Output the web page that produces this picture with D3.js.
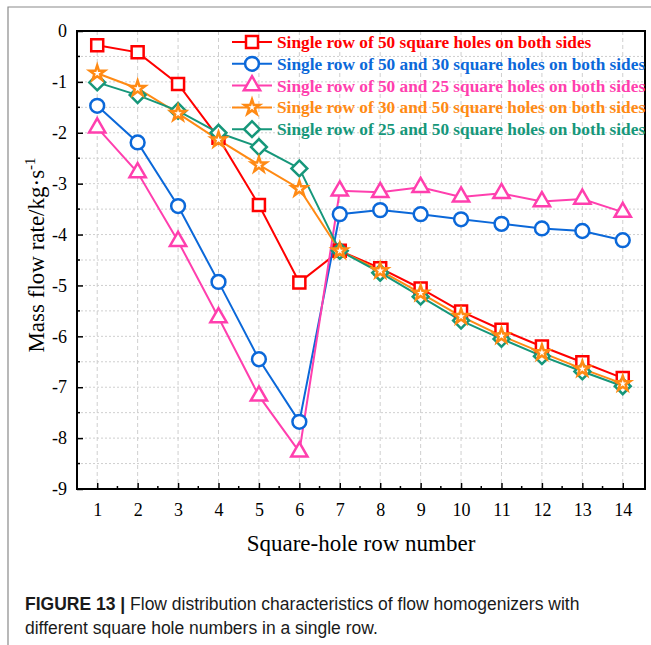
<!DOCTYPE html>
<html>
<head>
<meta charset="utf-8">
<script src="https://cdn.jsdelivr.net/npm/d3@7"></script>
<style>
  body { margin: 0; background: #fff; }
  svg { display: block; }
</style>
</head>
<body>
<div id="chart"></div>
<script>
const width = 651;
const height = 645;

// data
const rows = [1, 2, 3, 4, 5, 6, 7, 8, 9, 10, 11, 12, 13, 14];
const yTicks = [0, -1, -2, -3, -4, -5, -6, -7, -8, -9];
const single50 = [-0.28, -0.42, -1.04, -2.1, -3.42, -4.94, -4.32, -4.66, -5.06, -5.51, -5.87, -6.2, -6.51, -6.82];
const r50and30 = [-1.47, -2.19, -3.44, -4.93, -6.45, -7.68, -3.6, -3.52, -3.6, -3.7, -3.79, -3.88, -3.93, -4.11];
const r50and25 = [-1.9, -2.78, -4.13, -5.63, -7.17, -8.27, -3.14, -3.17, -3.07, -3.26, -3.19, -3.35, -3.3, -3.56];
const r30and50 = [-0.83, -1.13, -1.62, -2.14, -2.63, -3.1, -4.32, -4.71, -5.15, -5.61, -5.99, -6.32, -6.64, -6.93];
const r25and50 = [-1.01, -1.26, -1.57, -2.0, -2.28, -2.7, -4.32, -4.75, -5.22, -5.69, -6.05, -6.39, -6.69, -6.98];

// 菱形：旋转45°的正方形
const rotate = deg => `rotate(${deg})`;

const series = [
  { name: "Single row of 50 square holes on both sides", values: single50, color: "#ff0000", symbol: d3.symbolSquare, size: 144, rot: 0 },
  { name: "Single row of 50 and 30 square holes on both sides", values: r50and30, color: "#0b68d9", symbol: d3.symbolCircle, size: 150, rot: 0 },
  { name: "Single row of 50 and 25 square holes on both sides", values: r50and25, color: "#ff3fae", symbol: d3.symbolTriangle, size: 115, rot: 0 },
  { name: "Single row of 30 and 50 square holes on both sides", values: r30and50, color: "#ff8a14", symbol: d3.symbolStar, size: 70, rot: 0 },
  { name: "Single row of 25 and 50 square holes on both sides", values: r25and50, color: "#16977a", symbol: d3.symbolSquare, size: 125, rot: 45 }
];

const margin = { left: 77, top: 31, right: 6, bottom: 156 };
const plotW = width - margin.left - margin.right;
const plotH = height - margin.top - margin.bottom;

const svg = d3.select("#chart")
  .append("svg")
  .attr("width", width)
  .attr("height", height);

// outer frame
svg.append("path")
  .attr("d", `M8,${height} L8,7 L${width},7`)
  .attr("fill", "none")
  .attr("stroke", "#8a8a8a")
  .attr("stroke-width", 1.2);

const g = svg.append("g").attr("transform", `translate(${margin.left},${margin.top})`);

const x = d3.scaleLinear().domain([0.5, 14.55]).range([0, plotW]);
const y = d3.scaleLinear().domain([-9, 0]).range([plotH, 0]);

// grid
const halfSteps = d3.range(-8.5, 0, 0.5);
g.append("g").selectAll("line")
  .data(halfSteps)
  .enter().append("line")
  .attr("x1", 0).attr("x2", plotW)
  .attr("y1", d => y(d)).attr("y2", d => y(d))
  .attr("stroke", "#cfcfcf")
  .attr("stroke-dasharray", "2,2");

g.append("g").selectAll("line")
  .data(rows)
  .enter().append("line")
  .attr("x1", d => x(d)).attr("x2", d => x(d))
  .attr("y1", 0).attr("y2", plotH)
  .attr("stroke", "#cfcfcf")
  .attr("stroke-dasharray", "4,3");

// axes (ticks inward)
const xAxis = d3.axisBottom(x).tickValues(rows).tickSize(-6).tickPadding(14).tickFormat(d3.format("d"));
const yAxis = d3.axisLeft(y).tickValues(yTicks).tickSize(-6).tickPadding(10).tickFormat(d => d === 0 ? "0" : "-" + Math.abs(d));

const gx = g.append("g").attr("transform", `translate(0,${plotH})`).call(xAxis);
const gy = g.append("g").call(yAxis);

// minor ticks
g.append("g").selectAll("line")
  .data(d3.range(1.5, 14.5, 1))
  .enter().append("line")
  .attr("x1", d => x(d)).attr("x2", d => x(d))
  .attr("y1", plotH).attr("y2", plotH - 3)
  .attr("stroke", "#000").attr("stroke-width", 1.5);
g.append("g").selectAll("line")
  .data(d3.range(-8.5, 0, 1))
  .enter().append("line")
  .attr("x1", 0).attr("x2", 3)
  .attr("y1", d => y(d)).attr("y2", d => y(d))
  .attr("stroke", "#000").attr("stroke-width", 1.5);

[gx, gy].forEach(a => {
  a.select(".domain").remove();
  a.selectAll(".tick line").attr("stroke", "#000").attr("stroke-width", 1.5);
  a.selectAll(".tick text")
    .attr("font-family", "'Liberation Serif', 'Times New Roman', serif")
    .attr("font-size", 18)
    .attr("fill", "#000");
});

// plot box
g.append("rect")
  .attr("width", plotW).attr("height", plotH)
  .attr("fill", "none")
  .attr("stroke", "#000")
  .attr("stroke-width", 2);

// lines
const line = d3.line().x((d, i) => x(rows[i])).y(d => y(d));
series.forEach(s => {
  g.append("path")
    .datum(s.values)
    .attr("fill", "none")
    .attr("stroke", s.color)
    .attr("stroke-width", 2)
    .attr("d", line);
});

// markers
const order = [0, 1, 2, 4, 3];
order.forEach(k => {
  const s = series[k];
  g.append("g").selectAll("path")
    .data(s.values)
    .enter().append("path")
    .attr("transform", (d, i) => `translate(${x(rows[i])},${y(d)}) ${rotate(s.rot)}`)
    .attr("d", d3.symbol().type(s.symbol).size(s.size))
    .attr("fill", "#fff")
    .attr("stroke", s.color)
    .attr("stroke-width", 2.5);
});

// legend
const legend = svg.append("g").attr("transform", "translate(232,42)");
series.forEach((s, i) => {
  const row = legend.append("g").attr("transform", `translate(0,${i * 21.8})`);
  row.append("line")
    .attr("x1", 0).attr("x2", 40)
    .attr("stroke", s.color).attr("stroke-width", 2);
  row.append("path")
    .attr("transform", `translate(20,0) ${rotate(s.rot)}`)
    .attr("d", d3.symbol().type(s.symbol).size(s.size))
    .attr("fill", "#fff")
    .attr("stroke", s.color)
    .attr("stroke-width", 2.5);
  row.append("text")
    .attr("x", 45).attr("y", 6)
    .attr("font-family", "'Liberation Serif', 'Times New Roman', serif")
    .attr("font-weight", "bold")
    .attr("font-size", 17.3)
    .attr("fill", s.color)
    .text(s.name);
});

// axis titles
svg.append("text")
  .attr("x", margin.left + plotW / 2)
  .attr("y", 551)
  .attr("text-anchor", "middle")
  .attr("font-family", "'Liberation Serif', 'Times New Roman', serif")
  .attr("font-size", 23)
  .text("Square-hole row number");

const yt = svg.append("text")
  .attr("transform", `translate(44,${margin.top + plotH / 2 - 5}) rotate(-90)`)
  .attr("text-anchor", "middle")
  .attr("font-family", "'Liberation Serif', 'Times New Roman', serif")
  .attr("font-size", 23);
yt.append("tspan").text("Mass flow rate/kg·s");
yt.append("tspan").attr("dy", -9).attr("font-size", 15).text("-1");

// caption
const cap = svg.append("text")
  .attr("x", 25).attr("y", 610)
  .attr("font-family", "'Liberation Sans', Arial, sans-serif")
  .attr("font-size", 17.5)
  .attr("fill", "#1a1a1a");
cap.append("tspan").attr("font-weight", "bold").text("FIGURE 13 | ");
cap.append("tspan").text("Flow distribution characteristics of flow homogenizers with");
svg.append("text")
  .attr("x", 25).attr("y", 634)
  .attr("font-family", "'Liberation Sans', Arial, sans-serif")
  .attr("font-size", 17.5)
  .attr("fill", "#1a1a1a")
  .text("different square hole numbers in a single row.");
</script>
</body>
</html>
